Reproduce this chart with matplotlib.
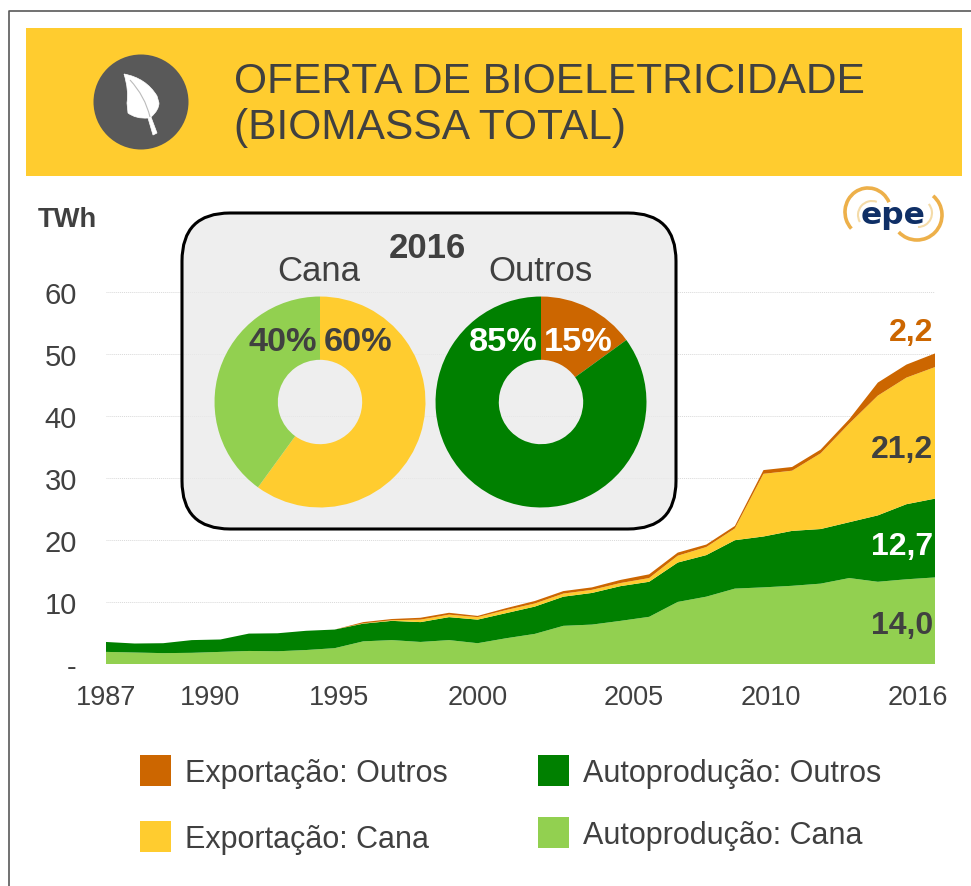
import matplotlib
matplotlib.use('Agg')
import matplotlib.pyplot as plt
from matplotlib.patches import Rectangle, Circle, FancyBboxPatch, PathPatch, Arc
from matplotlib.path import Path
from matplotlib.transforms import ScaledTranslation

plt.rcParams['font.family'] = ['Liberation Sans', 'DejaVu Sans']

years = list(range(1987, 2017))
auto_cana = [2.0, 1.9, 1.8, 1.85, 2.0, 2.15, 2.1, 2.3, 2.6, 3.7, 3.9, 3.6, 3.9, 3.4, 4.2,
             4.9, 6.2, 6.4, 7.0, 7.65, 10.05, 10.9, 12.2, 12.4, 12.65, 13.0, 13.9, 13.3, 13.7, 14.0]
auto_outros = [1.6, 1.45, 1.6, 2.05, 2.0, 2.8, 2.9, 3.1, 3.0, 2.85, 3.1, 3.2, 3.7, 3.8, 4.05,
               4.4, 4.7, 5.1, 5.6, 5.65, 6.35, 6.7, 7.8, 8.2, 8.85, 8.8, 9.0, 10.7, 12.1, 12.7]
exp_cana = [0, 0, 0, 0, 0, 0, 0, 0, 0, 0.05, 0.1, 0.4, 0.4, 0.4, 0.5,
            0.5, 0.5, 0.5, 0.5, 0.6, 1.1, 1.3, 1.9, 10.1, 9.7, 12.2, 15.9, 19.3, 20.4, 21.2]
exp_outros = [0, 0, 0, 0, 0, 0, 0, 0, 0, 0.2, 0.2, 0.3, 0.3, 0.2, 0.3,
              0.4, 0.4, 0.4, 0.5, 0.6, 0.5, 0.4, 0.4, 0.6, 0.6, 0.6, 0.7, 2.1, 2.1, 2.2]
series_colors = ['#92D050', '#008000', '#FFCC2F', '#CC6600']

end_labels = ['14,0', '12,7', '21,2', '2,2']
end_label_y = [6.3, 19.1, 34.7, 53.6]
end_label_colors = ['#404040', '#FFFFFF', '#404040', '#CC6600']

yticks = [0, 10, 20, 30, 40, 50, 60]
ytick_labels = ['-', '10', '20', '30', '40', '50', '60']
xticks = [1987, 1990, 1995, 2000, 2005, 2010, 2016]
# the labels in the original do not sit under their years (pixels)
xtick_shift = [0, 18.7, 4, 0, 12.7, 7, -17]

pie_cana = [60, 40]
pie_outros = [15, 85]

W, H = 971, 887
DY = 1  # whole picture sits one pixel lower than the first estimate
DARK = '#404040'
SWOOSH = '#EDB04A'
SWOOSH_LIGHT = '#F4DBA8'

fig = plt.figure(figsize=(W / 100, H / 100), dpi=100)


def px_axes(x0, y0, x1, y1):
    # rectangle given in picture pixels, y going down
    return fig.add_axes([x0 / W, 1 - (y1 + DY) / H, (x1 - x0) / W, (y1 - y0) / H])


def px_layer(z):
    layer = fig.add_axes([0, 0, 1, 1], zorder=z)
    layer.set_xlim(0, W)
    layer.set_ylim(H - DY, -DY)
    layer.axis('off')
    return layer


# background layer in pixel coordinates
bg = px_layer(0)
bg.plot([9, 9, W], [H, 10.5, 10.5], color='#595959', lw=1.2)
bg.add_patch(Rectangle((26, 27.5), 936, 148.5, color='#FFCC2F', lw=0))
bg.add_patch(Circle((141, 102), 47.5, color='#595959', lw=0))
leaf_verts = [(124, 74), (146, 78), (157, 96), (159, 103), (159, 110), (151, 117),
              (157, 133), (153, 135), (148, 118), (136, 119), (128, 113), (127, 103),
              (129, 90), (124, 74)]
leaf_codes = [Path.MOVETO, Path.CURVE3, Path.CURVE3, Path.LINETO, Path.CURVE3, Path.CURVE3,
              Path.LINETO, Path.LINETO, Path.LINETO, Path.CURVE3, Path.CURVE3, Path.LINETO,
              Path.CURVE3, Path.CURVE3]
bg.add_patch(PathPatch(Path(leaf_verts, leaf_codes), fc='white', ec='white', lw=0.5))
rib = Path([(130, 80), (145, 96), (150, 117)], [Path.MOVETO, Path.CURVE3, Path.CURVE3])
bg.add_patch(PathPatch(rib, fc='none', ec='#BBBBBB', lw=0.8))
bg.text(234, 81, 'OFERTA DE BIOELETRICIDADE', fontsize=30.6, color=DARK, va='center')
bg.text(234, 127, '(BIOMASSA TOTAL)', fontsize=30.6, color=DARK, va='center')
bg.text(38, 219, 'TWh', fontsize=19.7, fontweight='bold', color=DARK, va='center')

# epe logo
bg.add_patch(Arc((868, 212), 46, 48, theta1=135, theta2=335, color=SWOOSH, lw=2.6))
bg.add_patch(Arc((917, 215), 50, 50, theta1=-50, theta2=137, color=SWOOSH, lw=2.6))
bg.add_patch(Arc((872, 215), 28, 28, theta1=150, theta2=290, color=SWOOSH_LIGHT, lw=1.5))
bg.add_patch(Arc((918, 213), 28, 28, theta1=-40, theta2=90, color=SWOOSH_LIGHT, lw=1.5))
bg.text(893.5, 222.7, 'epe', fontsize=22.5, fontweight='bold', family='DejaVu Sans',
        color='#0F2F66', ha='center', va='baseline')

# area chart
ax = px_axes(106, 292, 935, 664.3)
ax.set_zorder(1)
ax.patch.set_alpha(0)
ax.stackplot(years, auto_cana, auto_outros, exp_cana, exp_outros, colors=series_colors, lw=0)
ax.set_xlim(1987, 2016)
ax.set_ylim(0, 60)
ax.set_yticks(yticks)
ax.set_yticklabels(ytick_labels)
ax.set_xticks(xticks)
ax.tick_params(length=0, labelcolor=DARK)
ax.tick_params(axis='x', pad=14.5, labelsize=19.5)
ax.tick_params(axis='y', pad=21, labelsize=21)
for lab, dx in zip(ax.get_xticklabels(), xtick_shift):
    lab.set_transform(lab.get_transform() + ScaledTranslation(dx / 100, 0, fig.dpi_scale_trans))
ax.grid(axis='y', color='#D9D9D9', lw=0.7, ls=(0, (1, 1)))
ax.set_axisbelow(True)
for s in ax.spines.values():
    s.set_visible(False)
for t, y, c in zip(end_labels, end_label_y, end_label_colors):
    ax.text(2015.93, y, t, ha='right', va='center', fontsize=23, fontweight='bold', color=c)

# inset box and donuts
fg = px_layer(2)
fg.add_patch(FancyBboxPatch((182 + 48, 213 + 48), 494 - 96, 316 - 96,
                            boxstyle='round,pad=48,rounding_size=48',
                            fc=(0.916, 0.916, 0.916, 0.8), ec='black', lw=2.2))
fg.text(427, 247, '2016', fontsize=25, fontweight='bold', color=DARK, ha='center', va='center')
fg.text(318.7, 270, 'Cana', fontsize=25, color=DARK, ha='center', va='center')
fg.text(540, 270, 'Outros', fontsize=25, color=DARK, ha='center', va='center')

pie_a = px_axes(214, 296, 426, 508)
pie_b = px_axes(435, 296, 647, 508)
for a, vals, cols in [(pie_a, pie_cana, ['#FFCC2F', '#92D050']),
                      (pie_b, pie_outros, ['#CC6600', '#008000'])]:
    a.set_zorder(3)
    a.pie(vals, colors=cols, startangle=90, counterclock=False, radius=1,
          wedgeprops={'width': 0.6, 'lw': 0})
    a.set_xlim(-1.005, 1.005)
    a.set_ylim(-1.005, 1.005)

top = px_layer(4)
top.text(283, 341, '40%', fontsize=24.7, fontweight='bold', color=DARK, ha='center', va='center')
top.text(358, 341, '60%', fontsize=24.7, fontweight='bold', color=DARK, ha='center', va='center')
top.text(503, 341, '85%', fontsize=24.7, fontweight='bold', color='white', ha='center', va='center')
top.text(578, 341, '15%', fontsize=24.7, fontweight='bold', color='white', ha='center', va='center')

# legend
legend = [(140, 755, '#CC6600', 'Exportação: Outros'), (140, 821, '#FFCC2F', 'Exportação: Cana'),
          (538, 755, '#008000', 'Autoprodução: Outros'), (538, 817, '#92D050', 'Autoprodução: Cana')]
for x, y, c, t in legend:
    top.add_patch(Rectangle((x, y), 31, 31, color=c, lw=0))
    top.text(x + 45, y + 18, t, fontsize=22, color=DARK, va='center')

fig.savefig('out.png', dpi=100)
